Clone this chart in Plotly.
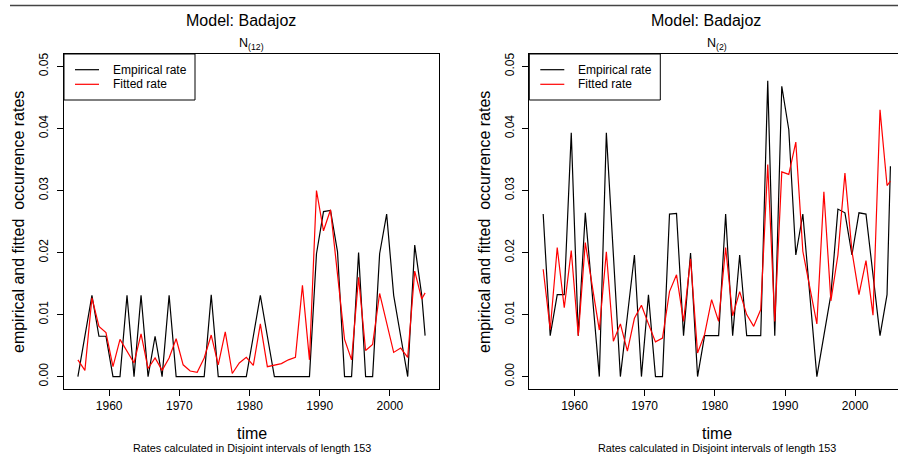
import plotly.graph_objects as go

W, H = 898, 454

# ---- data ----
time = [1955.54, 1956.54, 1957.54, 1958.54, 1959.54, 1960.54, 1961.54, 1962.54, 1963.54, 1964.54,
        1965.54, 1966.54, 1967.54, 1968.54, 1969.54, 1970.54, 1971.54, 1972.54, 1973.54, 1974.54,
        1975.54, 1976.54, 1977.54, 1978.54, 1979.54, 1980.54, 1981.54, 1982.54, 1983.54, 1984.54,
        1985.54, 1986.54, 1987.54, 1988.54, 1989.54, 1990.54, 1991.54, 1992.54, 1993.54, 1994.54,
        1995.54, 1996.54, 1997.54, 1998.54, 1999.54, 2000.54, 2001.54, 2002.54, 2003.54, 2004.54,
        2005.02]

emp_n12 = [0.0, 0.0065, 0.0131, 0.0065, 0.0065, 0.0, 0.0, 0.0131, 0.0, 0.0131,
           0.0, 0.0065, 0.0, 0.0131, 0.0, 0.0, 0.0, 0.0, 0.0, 0.0132,
           0.0, 0.0, 0.0, 0.0, 0.0, 0.0065, 0.0131, 0.0065, 0.0, 0.0,
           0.0, 0.0, 0.0, 0.0, 0.0198, 0.0266, 0.0268, 0.0201, 0.0, 0.0,
           0.0200, 0.0, 0.0, 0.0198, 0.0262, 0.0131, 0.0065, 0.0, 0.0212, 0.0131,
           0.0066]
fit_n12 = [0.0027, 0.0010, 0.0127, 0.0081, 0.0071, 0.0016, 0.0060, 0.0040, 0.0022, 0.0069,
           0.0013, 0.0030, 0.0010, 0.0030, 0.0061, 0.0019, 0.0009, 0.0007, 0.0030, 0.0067,
           0.0019, 0.0072, 0.0005, 0.0022, 0.0031, 0.0018, 0.0085, 0.0016, 0.0019, 0.0021,
           0.0027, 0.0031, 0.0147, 0.0027, 0.0300, 0.0235, 0.0269, 0.0165, 0.0060, 0.0027,
           0.0160, 0.0042, 0.0052, 0.0134, 0.0085, 0.0039, 0.0046, 0.0031, 0.0170, 0.0125,
           0.0135]

emp_n2 = [0.0262, 0.0066, 0.0132, 0.0132, 0.0393, 0.0066, 0.0264, 0.0131, 0.0, 0.0393,
          0.0196, 0.0, 0.0098, 0.0196, 0.0, 0.0132, 0.0, 0.0, 0.0262, 0.0263,
          0.0066, 0.0199, 0.0, 0.0066, 0.0066, 0.0066, 0.0262, 0.0066, 0.0196, 0.0066,
          0.0066, 0.0066, 0.0477, 0.0066, 0.0468, 0.0398, 0.0196, 0.0262, 0.0131, 0.0,
          0.0066, 0.0132, 0.0270, 0.0264, 0.0196, 0.0264, 0.0262, 0.0163, 0.0066, 0.0132,
          0.0339]
fit_n2 = [0.0173, 0.0076, 0.0208, 0.0111, 0.0203, 0.0066, 0.0216, 0.0145, 0.0075, 0.0201,
          0.0057, 0.0085, 0.0041, 0.0094, 0.0115, 0.0085, 0.0056, 0.0062, 0.0137, 0.0164,
          0.0089, 0.0190, 0.0038, 0.0068, 0.0124, 0.0089, 0.0208, 0.0098, 0.0137, 0.0100,
          0.0081, 0.0108, 0.0342, 0.0089, 0.0330, 0.0326, 0.0378, 0.0202, 0.0143, 0.0085,
          0.0298, 0.0122, 0.0196, 0.0328, 0.0202, 0.0132, 0.0187, 0.0099, 0.0430, 0.0308,
          0.0315]

x_ticks = [1960, 1970, 1980, 1990, 2000]
y_ticks = [0.00, 0.01, 0.02, 0.03, 0.04, 0.05]
y_ticktext = ["0.00", "0.01", "0.02", "0.03", "0.04", "0.05"]
panel_subtitles = ["N<sub>(12)</sub>", "N<sub>(2)</sub>"]
main_title = "Model: Badajoz"
legend_labels = ["Empirical rate", "Fitted rate"]
series_colors = ["black", "red"]

FONT = "Liberation Sans, Arial, Helvetica, sans-serif"


def px(x):
    return x / W


def py(y):
    return 1 - y / H


# plot boxes in pixels
L_left, L_right = 64.0, 439.0
R_left = 529.3
top, bot = 54.0, 389.0
xr = [1953.56, 2007.0]
scale = (L_right - L_left) / (xr[1] - xr[0])
R_right_val = xr[0] + (W - R_left) / scale
yr = [-0.002, 0.052]

fig = go.Figure()

panels = [("x", "y", emp_n12, fit_n12), ("x2", "y2", emp_n2, fit_n2)]
for xa, ya, emp, fit in panels:
    fig.add_trace(go.Scatter(x=time, y=emp, mode="lines", xaxis=xa, yaxis=ya,
                             line=dict(color=series_colors[0], width=1.2), showlegend=False))
    fig.add_trace(go.Scatter(x=time, y=fit, mode="lines", xaxis=xa, yaxis=ya,
                             line=dict(color=series_colors[1], width=1.2), showlegend=False))

axis_common = dict(showgrid=False, zeroline=False, showline=True, linecolor="black", linewidth=1,
                   ticks="outside", ticklen=6, tickcolor="black", tickwidth=1,
                   tickfont=dict(family=FONT, size=12, color="black"))

fig.update_layout(
    width=W, height=H, margin=dict(l=0, r=0, t=0, b=0),
    paper_bgcolor="white", plot_bgcolor="white", showlegend=False,
    xaxis=dict(domain=[px(L_left), px(L_right)], range=xr, tickvals=x_ticks, mirror=True,
               anchor="y", **axis_common),
    yaxis=dict(domain=[py(bot), py(top)], range=yr, tickvals=y_ticks, ticktext=y_ticktext,
               tickangle=-90, mirror=True, anchor="x", ticklabelstandoff=4, **axis_common),
    xaxis2=dict(domain=[px(R_left), 1.0], range=[xr[0], R_right_val], tickvals=x_ticks, mirror=True,
                anchor="y2", **axis_common),
    yaxis2=dict(domain=[py(bot), py(top)], range=yr, tickvals=y_ticks, ticktext=y_ticktext,
                tickangle=-90, mirror=False, anchor="x2", ticklabelstandoff=4, **axis_common),
)

annotations = []
shapes = []


def text(x, y, s, size, angle=0):
    annotations.append(dict(x=px(x), y=py(y), xref="paper", yref="paper", text=s, showarrow=False,
                            xanchor="center", yanchor="middle", textangle=angle,
                            font=dict(family=FONT, size=size, color="black")))


# top rule line
shapes.append(dict(type="line", xref="paper", yref="paper", x0=px(10), x1=1.0, y0=py(5.5), y1=py(5.5),
                   line=dict(color="#444444", width=1.6)))

offsets = [0.0, R_left - L_left]
ylab_x = [18.0, 484.0]
for k, off in enumerate(offsets):
    cx = (L_left + L_right) / 2 + off
    text(240.5 + off, 20, main_title, 16)
    text(cx, 44, panel_subtitles[k], 12.5)
    text(cx, 433, "time", 16)
    text(cx, 448, "Rates calculated in Disjoint intervals of length 153", 10.8)
    text(ylab_x[k], 222, "empirical and fitted  occurrence rates", 16, angle=-90)
    # legend box
    lx0 = L_left + off
    shapes.append(dict(type="rect", xref="paper", yref="paper", x0=px(lx0), x1=px(lx0 + 131),
                       y0=py(100), y1=py(top), line=dict(color="black", width=1),
                       fillcolor="white"))
    for j, (lab, col) in enumerate(zip(legend_labels, series_colors)):
        ly = 69.7 + j * 14.6
        shapes.append(dict(type="line", xref="paper", yref="paper", x0=px(lx0 + 11), x1=px(lx0 + 35),
                           y0=py(ly), y1=py(ly), line=dict(color=col, width=1.2)))
        annotations.append(dict(x=px(lx0 + 46.5), y=py(ly), xref="paper", yref="paper", text=lab,
                                showarrow=False, xanchor="left", yanchor="middle",
                                font=dict(family=FONT, size=12, color="black")))

fig.update_layout(annotations=annotations, shapes=shapes)

fig.write_html("out.html")
